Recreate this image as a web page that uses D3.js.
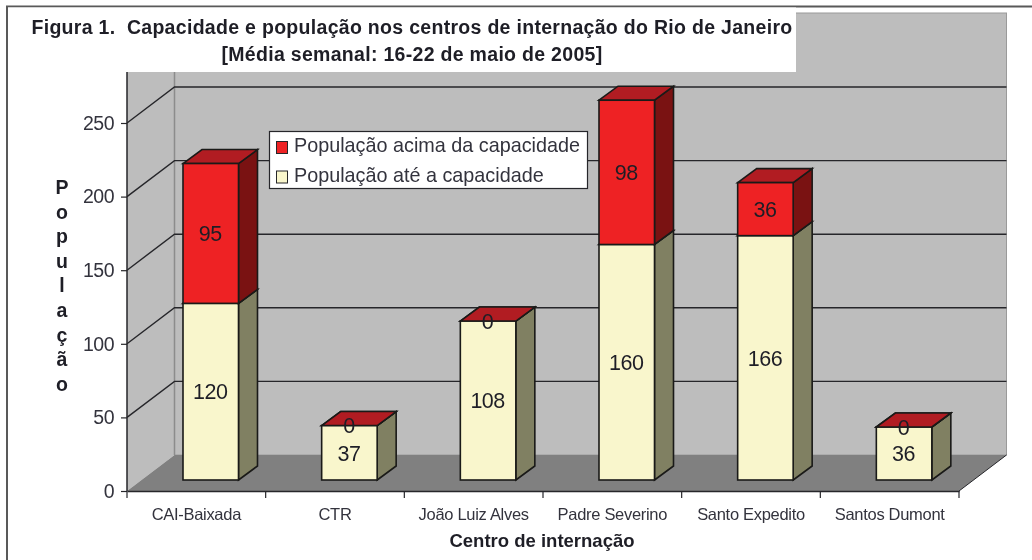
<!DOCTYPE html>
<html>
<head>
<meta charset="utf-8">
<script src="https://cdn.jsdelivr.net/npm/d3@7"></script>
<style>
  body { margin: 0; background: #fff; }
  svg { display: block; filter: blur(0.35px); }
  text { font-family: "Liberation Sans", Arial, sans-serif; fill: #1e1e26; }
</style>
</head>
<body>
<div id="chart"></div>
<script>
// Data
var centros = ["CAI-Baixada", "CTR", "João Luiz Alves", "Padre Severino", "Santo Expedito", "Santos Dumont"];
var ateCapacidade = [120, 37, 108, 160, 166, 36];
var acimaCapacidade = [95, 0, 0, 98, 36, 0];
var yTicks = [0, 50, 100, 150, 200, 250];
var seriesNames = ["População acima da capacidade", "População até a capacidade"];
var titleLines = ["Figura 1.  Capacidade e população nos centros de internação do Rio de Janeiro",
                  "[Média semanal: 16-22 de maio de 2005]"];

let width = 1032;
let height = 560;

let plotLeft = 127;
let plotRight = 959;
let plotBottom = 491;
let wallTop = 13;

// depth of the fake 3d box and of each bar
let depthX = 47.5;
let depthY = 36;
let barDepthX = 19;
let barDepthY = 14;
let barInset = 11;
let barOffset = 56;
let barWidth = 55.5;

let colors = {
  wall: "#bdbdbd", floor: "#808080", line: "#26262a",
  cream: "#f9f6cc", creamSide: "#808062",
  red: "#ee2224", redSide: "#7a1212", redTop: "#b11c22"
};

let rows = centros.map((c, i) => ({ centro: c, ate: ateCapacidade[i], acima: acimaCapacidade[i] }));
let stacked = d3.stack().keys(["ate", "acima"])(rows);

let x = d3.scaleBand().domain(centros).range([plotLeft, plotRight]);
let y = d3.scaleLinear().domain([0, 250]).range([plotBottom, 123]);

let svg = d3.select("#chart").append("svg")
  .attr("width", width)
  .attr("height", height);

// Outer frame
svg.append("path")
  .attr("d", "M7,560V6.5H1032")
  .attr("fill", "none")
  .attr("stroke", "#595959")
  .attr("stroke-width", 2);

let line = d3.line();

// Walls and floor
svg.append("rect")
  .attr("x", plotLeft + depthX).attr("y", wallTop)
  .attr("width", plotRight - plotLeft).attr("height", plotBottom - depthY - wallTop)
  .attr("fill", colors.wall)
  .attr("stroke", "#9a9a9a");

svg.append("path")
  .attr("d", line([[plotLeft, wallTop], [plotLeft + depthX, wallTop], [plotLeft + depthX, plotBottom - depthY], [plotLeft, plotBottom]]) + "Z")
  .attr("fill", colors.wall);

svg.append("path")
  .attr("d", line([[plotLeft, plotBottom], [plotLeft + depthX, plotBottom - depthY], [plotRight + depthX, plotBottom - depthY], [plotRight, plotBottom]]) + "Z")
  .attr("fill", colors.floor);

svg.append("line")
  .attr("x1", plotLeft + depthX).attr("x2", plotLeft + depthX)
  .attr("y1", wallTop).attr("y2", plotBottom - depthY)
  .attr("stroke", "#8c8c8c")
  .attr("stroke-width", 1.5);

// Gridlines
yTicks.filter(d => d > 0).forEach(function (d) {
  svg.append("path")
    .attr("d", line([[plotLeft, y(d)], [plotLeft + depthX, y(d) - depthY], [plotRight + depthX, y(d) - depthY]]))
    .attr("fill", "none")
    .attr("stroke", colors.line)
    .attr("stroke-width", 1.4);
});

svg.append("line")
  .attr("x1", plotRight).attr("y1", plotBottom)
  .attr("x2", plotRight + depthX).attr("y2", plotBottom - depthY)
  .attr("stroke", colors.line);

// Title box sits over the wall
svg.append("rect")
  .attr("x", 8).attr("y", 7.5)
  .attr("width", 788).attr("height", 64.5)
  .attr("fill", "#fff");

titleLines.forEach(function (t, i) {
  svg.append("text")
    .attr("x", 412)
    .attr("y", 34 + i * 27)
    .attr("text-anchor", "middle")
    .attr("xml:space", "preserve")
    .style("font-size", "19.5px")
    .style("font-weight", 700)
    .style("letter-spacing", "0.3px")
    .text(t);
});

// Axes
let yAxis = d3.axisLeft(y).tickValues(yTicks).tickSize(6).tickPadding(7);
let gy = svg.append("g").attr("transform", "translate(" + plotLeft + ",0)").call(yAxis);
gy.select(".domain").remove();
gy.selectAll("line").attr("stroke", colors.line).attr("stroke-width", 1.2);
gy.selectAll("text")
  .style("font-size", "19.5px")
  .style("letter-spacing", "-0.5px")
  .style("fill", "#33333d");

svg.append("line")
  .attr("x1", plotLeft).attr("x2", plotLeft)
  .attr("y1", 72).attr("y2", plotBottom)
  .attr("stroke", colors.line)
  .attr("stroke-width", 1.5);

let xAxis = d3.axisBottom(x).tickSize(0).tickPadding(17);
let gx = svg.append("g").attr("transform", "translate(0," + plotBottom + ")").call(xAxis);
gx.select(".domain").attr("stroke", colors.line).attr("stroke-width", 1.5);
gx.selectAll("text")
  .style("font-size", "16.5px")
  .style("letter-spacing", "-0.3px")
  .style("fill", "#33333d");

// Excel puts the ticks between the categories
svg.selectAll(".cat-tick")
  .data(centros.concat(["end"]))
  .enter().append("line")
  .attr("class", "cat-tick")
  .attr("x1", (d, i) => plotLeft + i * x.step())
  .attr("x2", (d, i) => plotLeft + i * x.step())
  .attr("y1", plotBottom)
  .attr("y2", plotBottom + 7)
  .attr("stroke", colors.line)
  .attr("stroke-width", 1.2);

// Bars, bottom segment first
function drawSegment(g, left, y0, y1, front, side, top) {
  let right = left + barWidth;
  let stroke = "#1a1a18";
  g.append("path")
    .attr("d", line([[right, y0], [right + barDepthX, y0 - barDepthY], [right + barDepthX, y1 - barDepthY], [right, y1]]) + "Z")
    .attr("fill", side).attr("stroke", stroke).attr("stroke-width", 1.6);
  g.append("path")
    .attr("d", line([[left, y1], [left + barDepthX, y1 - barDepthY], [right + barDepthX, y1 - barDepthY], [right, y1]]) + "Z")
    .attr("fill", top).attr("stroke", stroke).attr("stroke-width", 1.6);
  g.append("rect")
    .attr("x", left).attr("y", y1)
    .attr("width", barWidth).attr("height", y0 - y1)
    .attr("fill", front).attr("stroke", stroke).attr("stroke-width", 1.6);
}

rows.forEach(function (row, i) {
  let g = svg.append("g");
  let left = x(row.centro) + barOffset;
  let s0 = stacked[0][i], s1 = stacked[1][i];
  drawSegment(g, left, y(s0[0]) - barInset, y(s0[1]) - barInset, colors.cream, colors.creamSide, colors.cream);
  drawSegment(g, left, y(s1[0]) - barInset, y(s1[1]) - barInset, colors.red, colors.redSide, colors.redTop);
  [s0, s1].forEach(function (s) {
    g.append("text")
      .attr("x", left + barWidth / 2 - 0.5)
      .attr("y", (y(s[0]) + y(s[1])) / 2 - barInset)
      .attr("dy", "0.36em")
      .attr("text-anchor", "middle")
      .style("font-size", "21.5px")
      .style("letter-spacing", "-0.5px")
      .text(s[1] - s[0]);
  });
});

// Legend
let legend = svg.append("g");
legend.append("rect")
  .attr("x", 269.5).attr("y", 131.5)
  .attr("width", 318).attr("height", 57)
  .attr("fill", "#fff")
  .attr("stroke", colors.line)
  .attr("stroke-width", 1.2);

seriesNames.forEach(function (name, i) {
  legend.append("rect")
    .attr("x", 276.5).attr("y", 141.5 + i * 29.5)
    .attr("width", 11).attr("height", 12)
    .attr("fill", i == 0 ? colors.red : colors.cream)
    .attr("stroke", colors.line);
  legend.append("text")
    .attr("x", 294)
    .attr("y", 152 + i * 29.5)
    .style("font-size", "19.8px")
    .style("fill", "#33333d")
    .text(name);
});

// Axis titles
let yTitle = svg.append("text")
  .attr("text-anchor", "middle")
  .style("font-size", "19.5px")
  .style("font-weight", 700);
"População".split("").forEach(function (ch, i) {
  yTitle.append("tspan")
    .attr("x", 62)
    .attr("y", 194 + i * 24.6)
    .text(ch);
});

svg.append("text")
  .attr("x", 542)
  .attr("y", 547)
  .attr("text-anchor", "middle")
  .style("font-size", "18.5px")
  .style("font-weight", 700)
  .text("Centro de internação");
</script>
</body>
</html>
